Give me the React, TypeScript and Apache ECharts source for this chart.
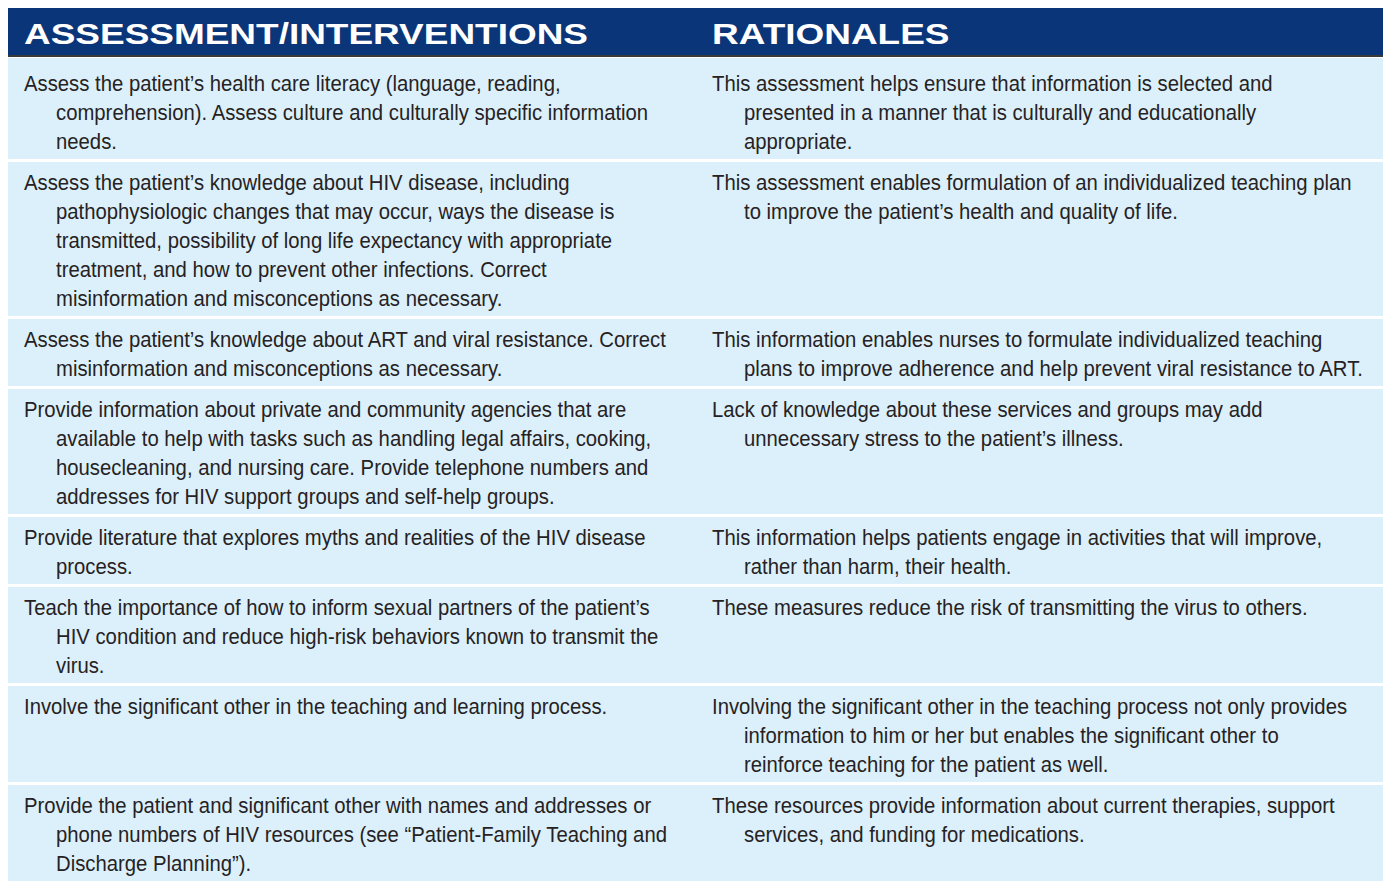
import React, { useEffect, useRef } from "react";
import * as echarts from "echarts";

const headers = ["ASSESSMENT/INTERVENTIONS", "RATIONALES"];

const interventions: string[][] = [
  [
    "Assess the patient’s health care literacy (language, reading,",
    "comprehension). Assess culture and culturally specific information",
    "needs.",
  ],
  [
    "Assess the patient’s knowledge about HIV disease, including",
    "pathophysiologic changes that may occur, ways the disease is",
    "transmitted, possibility of long life expectancy with appropriate",
    "treatment, and how to prevent other infections. Correct",
    "misinformation and misconceptions as necessary.",
  ],
  [
    "Assess the patient’s knowledge about ART and viral resistance. Correct",
    "misinformation and misconceptions as necessary.",
  ],
  [
    "Provide information about private and community agencies that are",
    "available to help with tasks such as handling legal affairs, cooking,",
    "housecleaning, and nursing care. Provide telephone numbers and",
    "addresses for HIV support groups and self-help groups.",
  ],
  [
    "Provide literature that explores myths and realities of the HIV disease",
    "process.",
  ],
  [
    "Teach the importance of how to inform sexual partners of the patient’s",
    "HIV condition and reduce high-risk behaviors known to transmit the",
    "virus.",
  ],
  ["Involve the significant other in the teaching and learning process."],
  [
    "Provide the patient and significant other with names and addresses or",
    "phone numbers of HIV resources (see “Patient-Family Teaching and",
    "Discharge Planning”).",
  ],
];

const rationales: string[][] = [
  [
    "This assessment helps ensure that information is selected and",
    "presented in a manner that is culturally and educationally",
    "appropriate.",
  ],
  [
    "This assessment enables formulation of an individualized teaching plan",
    "to improve the patient’s health and quality of life.",
  ],
  [
    "This information enables nurses to formulate individualized teaching",
    "plans to improve adherence and help prevent viral resistance to ART.",
  ],
  [
    "Lack of knowledge about these services and groups may add",
    "unnecessary stress to the patient’s illness.",
  ],
  [
    "This information helps patients engage in activities that will improve,",
    "rather than harm, their health.",
  ],
  ["These measures reduce the risk of transmitting the virus to others."],
  [
    "Involving the significant other in the teaching process not only provides",
    "information to him or her but enables the significant other to",
    "reinforce teaching for the patient as well.",
  ],
  [
    "These resources provide information about current therapies, support",
    "services, and funding for medications.",
  ],
];

const W = 1383;
const H = 881;

function measure(text: string, font: string): number {
  const c = document.createElement("canvas");
  const ctx = c.getContext("2d")!;
  ctx.font = font;
  return ctx.measureText(text).width;
}

export default function App() {
  const ref = useRef<HTMLDivElement>(null);
  useEffect(() => {
    document.body.style.margin = "0";
    const chart = echarts.init(ref.current!, null, { renderer: "svg" });
    const elements: any[] = [];
    const left = 8;
    const colX = [24, 712];
    const indent = 32;
    const lineH = 29;
    const bodyFont = "22px 'Liberation Sans', Arial, sans-serif";
    const headFont = "bold 30px 'Liberation Sans', Arial, sans-serif";
    const textColor = "#262223";

    // horizontal condensing/extension to match the reference type widths
    const bodyScale = 537 / measure(interventions[0][0], bodyFont);
    const headScale = 564 / measure(headers[0], headFont);

    // header
    elements.push({
      type: "rect",
      shape: { x: left, y: 8, width: W - left, height: 48 },
      style: { fill: "#0b3579" },
    });
    elements.push({
      type: "rect",
      shape: { x: left, y: 55, width: W - left, height: 2 },
      style: { fill: "#3a3a3a" },
    });
    headers.forEach((h, i) => {
      elements.push({
        type: "text",
        x: colX[i],
        y: 34,
        scaleX: headScale,
        style: {
          text: h,
          fill: "#ffffff",
          font: headFont,
          textVerticalAlign: "middle",
          textAlign: "left",
        },
      });
    });

    let top = 58;
    interventions.forEach((lines, r) => {
      const n = Math.max(lines.length, rationales[r].length);
      const extra = r === 0 ? 5 : 0;
      const h = lineH * n + 9 + extra;
      elements.push({
        type: "rect",
        shape: { x: left, y: top, width: W - left, height: Math.min(h, H - top) },
        style: { fill: "#dcf0fb" },
      });
      const firstY = top + 20 + extra;
      [lines, rationales[r]].forEach((col, c) => {
        col.forEach((ln, i) => {
          elements.push({
            type: "text",
            x: colX[c] + (i > 0 ? indent : 0),
            y: firstY + i * lineH,
            scaleX: bodyScale,
            style: {
              text: ln,
              fill: textColor,
              font: bodyFont,
              textVerticalAlign: "middle",
              textAlign: "left",
            },
          });
        });
      });
      top += h + 3;
    });

    chart.setOption({
      animation: false,
      backgroundColor: "#ffffff",
      graphic: { elements },
    });
    return () => chart.dispose();
  }, []);
  return <div ref={ref} style={{ width: W, height: H }} />;
}
